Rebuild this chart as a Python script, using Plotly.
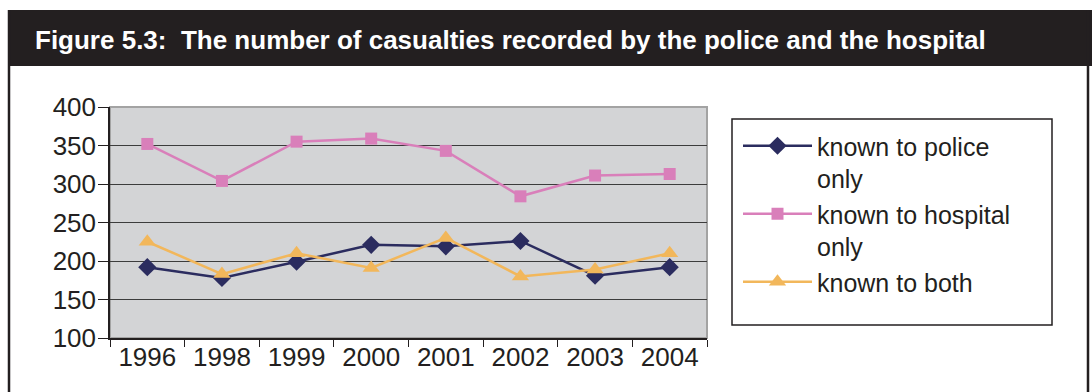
import plotly.graph_objects as go

# Casualty counts per year
years = ["1996", "1998", "1999", "2000", "2001", "2002", "2003", "2004"]
police_only = [192, 178, 199, 221, 219, 226, 181, 192]
hospital_only = [352, 304, 355, 359, 343, 284, 311, 313]
known_to_both = [225, 183, 210, 191, 230, 180, 189, 210]

W, H = 1092, 392
L, R, T, B = 110, 385, 107, 54
PW, PH = W - L - R, H - T - B


def xp(px):
    return (px - L) / PW


def yp(py):
    return (H - B - py) / PH


INK = "#231f20"
FONT = "Liberation Sans, Arial, sans-serif"

fig = go.Figure()
fig.add_trace(go.Scatter(
    x=years, y=police_only, mode="lines+markers",
    name="known to police<br>only",
    line=dict(color="#2b2c5f", width=2.5),
    marker=dict(symbol="diamond", size=14, color="#2b2c5f"),
))
fig.add_trace(go.Scatter(
    x=years, y=hospital_only, mode="lines+markers",
    name="known to hospital<br>only",
    line=dict(color="#d97fba", width=2.5),
    marker=dict(symbol="square", size=12, color="#d97fba"),
))
fig.add_trace(go.Scatter(
    x=years, y=known_to_both, mode="lines+markers",
    name="known to both",
    line=dict(color="#f2b75b", width=2.5),
    marker=dict(symbol="triangle-up", size=15, color="#f2b75b"),
))

shapes = [
    # title band
    dict(type="rect", xref="paper", yref="paper",
         x0=xp(8), x1=xp(1092), y0=yp(66), y1=yp(10),
         fillcolor=INK, line=dict(width=0)),
    # outer frame sides
    dict(type="line", xref="paper", yref="paper",
         x0=xp(9), x1=xp(9), y0=yp(392), y1=yp(10),
         line=dict(color=INK, width=2.5)),
    dict(type="line", xref="paper", yref="paper",
         x0=xp(1088), x1=xp(1088), y0=yp(392), y1=yp(10),
         line=dict(color=INK, width=2.5)),
    # plot area border
    dict(type="rect", xref="paper", yref="paper",
         x0=0, x1=1, y0=0, y1=1, layer="below",
         line=dict(color="#a3a3a3", width=2)),
    # legend box
    dict(type="rect", xref="paper", yref="paper",
         x0=xp(732), x1=xp(1052), y0=yp(325), y1=yp(119),
         line=dict(color=INK, width=1.5)),
]

fig.update_layout(
    width=W, height=H,
    margin=dict(l=L, r=R, t=T, b=B, pad=0),
    paper_bgcolor="white",
    plot_bgcolor="#d3d4d6",
    font=dict(family=FONT, size=26, color=INK),
    shapes=shapes,
    annotations=[dict(
        text="<b>Figure 5.3:\u00a0 The number of casualties recorded by the police and the hospital</b>",
        xref="paper", yref="paper", x=xp(33), y=yp(40),
        xanchor="left", yanchor="middle", showarrow=False,
        font=dict(family=FONT, size=26, color="white"),
    )],
    showlegend=True,
    legend=dict(
        x=xp(738), y=yp(123), xanchor="left", yanchor="top",
        bgcolor="rgba(0,0,0,0)", borderwidth=0,
        itemwidth=69, font=dict(size=25, color=INK),
        tracegroupgap=0, valign="top",
    ),
    xaxis=dict(
        type="category", range=[-0.5, 7.5],
        showline=True, linecolor=INK, linewidth=1.5,
        ticks="outside", ticklen=7, tickcolor=INK, tickwidth=1,
        tickson="boundaries", showgrid=False,
        ticklabelstandoff=-5,
        tickfont=dict(size=26, color=INK),
    ),
    yaxis=dict(
        range=[100, 400], dtick=50, tick0=100,
        showline=True, linecolor=INK, linewidth=1.5,
        ticks="outside", ticklen=10, tickcolor=INK, tickwidth=1,
        showgrid=True, gridcolor="#3c3c3c", gridwidth=1,
        zeroline=False, ticklabelstandoff=-3,
        tickfont=dict(size=26, color=INK),
    ),
)

fig.write_html("out.html")
